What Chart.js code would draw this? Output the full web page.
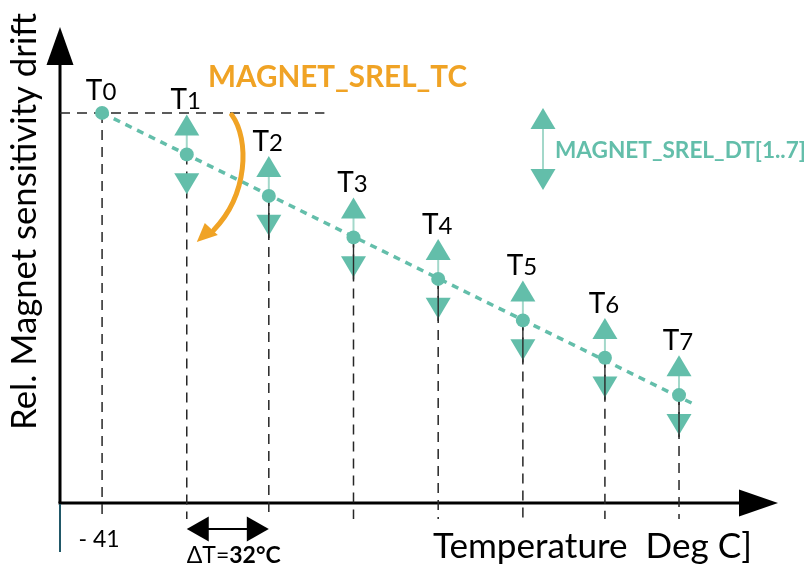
<!DOCTYPE html>
<html>
<head>
<meta charset="utf-8">
<script src="https://cdn.jsdelivr.net/npm/chart.js@4.4.1/dist/chart.umd.min.js"></script>
<style>
  html, body { margin: 0; padding: 0; background: #fff; }
  canvas { display: block; }
</style>
</head>
<body>
<canvas id="myChartDrift" width="809" height="564"></canvas>
<script>
// measuring points T0..T7
const pointNames = ["0", "1", "2", "3", "4", "5", "6", "7"]
const temperatures = [-41, -9, 22, 54, 86, 118, 149, 177]
const sensitivityDrift = [0, -1.0, -2.0, -3.0, -4.0, -5.0, -5.9, -6.8]
const driftTolerance = [0, 0.96, 0.96, 0.96, 0.96, 0.96, 0.96, 0.96]
// dotted TC line, runs a bit past T7
const trendTemperatures = [-41, 182]
const trendDrift = [0, -7.0]
const startTickLabel = "- 41"
const stepLabel = ["\u0394T=", "32\u00B0C"]

const teal = "#63BEAA"
const tealLight = "#A3D8CA"
const orange = "#F0A325"
const font = "Lato, 'Open Sans', sans-serif"

const ctxDrift = document.getElementById("myChartDrift")

function fitSize(ctx, text, weight, width) {
  ctx.font = weight + " 100px " + font
  return 100 * width / ctx.measureText(text).width
}

function dashLine(ctx, x1, y1, x2, y2) {
  ctx.beginPath()
  ctx.moveTo(x1, y1)
  ctx.lineTo(x2, y2)
  ctx.stroke()
}

function triangle(ctx, x, tip, dir) {
  // dir = -1 points up, 1 points down
  ctx.beginPath()
  ctx.moveTo(x, tip)
  ctx.lineTo(x - 12.5, tip - dir * 21)
  ctx.lineTo(x + 12.5, tip - dir * 21)
  ctx.closePath()
  ctx.fill()
}

const sketch = {
  id: "sketch",
  beforeDatasetsDraw(chart) {
    const { ctx, chartArea: a, scales: { x, y } } = chart
    ctx.save()

    // axes with arrow heads
    ctx.strokeStyle = "#000"
    ctx.fillStyle = "#000"
    ctx.lineWidth = 3
    dashLine(ctx, a.left, a.bottom, a.left, a.top + 36)
    dashLine(ctx, a.left - 1.5, a.bottom, a.right - 36, a.bottom)
    ctx.beginPath()
    ctx.moveTo(a.left, a.top)
    ctx.lineTo(a.left - 13.5, a.top + 38)
    ctx.lineTo(a.left + 13.5, a.top + 38)
    ctx.closePath()
    ctx.fill()
    ctx.beginPath()
    ctx.moveTo(a.right, a.bottom)
    ctx.lineTo(a.right - 39, a.bottom - 13.5)
    ctx.lineTo(a.right - 39, a.bottom + 13.5)
    ctx.closePath()
    ctx.fill()
    ctx.strokeStyle = "#215868"
    ctx.lineWidth = 2
    dashLine(ctx, a.left, a.bottom + 1, a.left, a.bottom + 49)

    // reference lines
    ctx.strokeStyle = "#262626"
    ctx.lineWidth = 1.5
    ctx.setLineDash([10, 7])
    const y0 = y.getPixelForValue(sensitivityDrift[0])
    dashLine(ctx, a.left, y0, x.getPixelForValue(43), y0)
    for (let i = 0; i < temperatures.length; i++) {
      const px = x.getPixelForValue(temperatures[i])
      const py = y.getPixelForValue(sensitivityDrift[i])
      dashLine(ctx, px, py, px, a.bottom + 16)
    }
    ctx.setLineDash([])

    // tolerance connectors
    ctx.strokeStyle = tealLight
    ctx.lineWidth = 2
    for (let i = 1; i < temperatures.length; i++) {
      const px = x.getPixelForValue(temperatures[i])
      const top = y.getPixelForValue(sensitivityDrift[i] + driftTolerance[i])
      const py = y.getPixelForValue(sensitivityDrift[i])
      dashLine(ctx, px, top + 10, px, py)
    }
    ctx.restore()
  },
  afterDatasetsDraw(chart) {
    const { ctx, chartArea: a, scales: { x, y } } = chart
    ctx.save()

    // MAGNET_SREL_DT triangles
    ctx.fillStyle = teal
    for (let i = 1; i < temperatures.length; i++) {
      const px = x.getPixelForValue(temperatures[i])
      triangle(ctx, px, y.getPixelForValue(sensitivityDrift[i] + driftTolerance[i]), -1)
      triangle(ctx, px, y.getPixelForValue(sensitivityDrift[i] - driftTolerance[i]), 1)
    }
    ctx.strokeStyle = "#2a2a2a"
    ctx.lineWidth = 1.4
    for (let i = 2; i < temperatures.length; i++) {
      const px = x.getPixelForValue(temperatures[i])
      const py = y.getPixelForValue(sensitivityDrift[i])
      dashLine(ctx, px, py + 7, px, py + 42)
    }

    // T labels
    ctx.fillStyle = "#000"
    ctx.textBaseline = "alphabetic"
    for (let i = 0; i < temperatures.length; i++) {
      const px = x.getPixelForValue(temperatures[i])
      const py = y.getPixelForValue(sensitivityDrift[i])
      const base = i === 0 ? py - 13 : py - 45
      ctx.font = "28px " + font
      const wT = ctx.measureText("T").width
      ctx.font = "24px " + font
      const wD = ctx.measureText(pointNames[i]).width
      const left = px - 1 - (wT + wD) / 2
      ctx.textAlign = "left"
      ctx.font = "28px " + font
      ctx.fillText("T", left, base)
      ctx.font = "24px " + font
      ctx.fillText(pointNames[i], left + wT, base)
    }

    // axis titles
    let s = fitSize(ctx, "Rel. Magnet sensitivity drift", "normal", 417)
    ctx.font = s + "px " + font
    ctx.save()
    ctx.translate(36, 221.5)
    ctx.rotate(-Math.PI / 2)
    ctx.textAlign = "center"
    ctx.fillText("Rel. Magnet sensitivity drift", 0, 0)
    ctx.restore()

    s = fitSize(ctx, "Temperature  Deg C]", "normal", 319)
    ctx.font = s + "px " + font
    ctx.textAlign = "left"
    ctx.fillText("Temperature  Deg C]", 433, 558)

    // start tick and step
    ctx.font = "23px " + font
    ctx.textAlign = "center"
    ctx.fillText(startTickLabel, x.getPixelForValue(temperatures[0]) - 3, 547)

    const x1 = x.getPixelForValue(temperatures[1])
    const x2 = x.getPixelForValue(temperatures[2])
    ctx.lineWidth = 2
    ctx.strokeStyle = "#000"
    dashLine(ctx, x1 + 15, 529, x2 - 15, 529)
    ctx.beginPath()
    ctx.moveTo(x1, 529); ctx.lineTo(x1 + 22, 516.5); ctx.lineTo(x1 + 22, 541.5)
    ctx.closePath(); ctx.fill()
    ctx.beginPath()
    ctx.moveTo(x2, 529); ctx.lineTo(x2 - 22, 516.5); ctx.lineTo(x2 - 22, 541.5)
    ctx.closePath(); ctx.fill()
    ctx.textAlign = "left"
    ctx.font = "23px " + font
    const wa = ctx.measureText(stepLabel[0]).width
    ctx.fillText(stepLabel[0], x1, 563)
    ctx.font = "bold 23px " + font
    ctx.fillText(stepLabel[1], x1 + wa, 563)

    // MAGNET_SREL_TC curved arrow
    const ax = (x1 + x2) / 2
    const ay = y.getPixelForValue(sensitivityDrift[0])
    ctx.strokeStyle = orange
    ctx.fillStyle = orange
    ctx.lineWidth = 5
    ctx.lineCap = "round"
    ctx.beginPath()
    ctx.moveTo(ax + 4, ay + 2)
    ctx.bezierCurveTo(ax + 22, ay + 27, ax + 20, ay + 82, ax - 14, ay + 117)
    ctx.stroke()
    ctx.beginPath()
    ctx.moveTo(ax - 31, ay + 129)
    ctx.lineTo(ax - 23, ay + 110)
    ctx.lineTo(ax - 10, ay + 122)
    ctx.closePath()
    ctx.fill()
    s = fitSize(ctx, "MAGNET_SREL_TC", "bold", 259)
    ctx.font = "bold " + s + "px " + font
    ctx.fillText("MAGNET_SREL_TC", 208, 87)

    // legend for the tolerance arrows
    ctx.strokeStyle = tealLight
    ctx.lineWidth = 2
    dashLine(ctx, 543, 125, 543, 172)
    ctx.fillStyle = teal
    triangle(ctx, 543, 108, -1)
    triangle(ctx, 543, 190, 1)
    s = fitSize(ctx, "MAGNET_SREL_DT[1..7]", "bold", 251)
    ctx.font = "bold " + s + "px " + font
    ctx.fillText("MAGNET_SREL_DT[1..7]", 555, 158)

    ctx.restore()
  }
}

new Chart(ctxDrift, {
  type: "scatter",
  data: {
    datasets: [{
      label: "Points",
      data: temperatures.map((t, i) => ({ x: t, y: sensitivityDrift[i] })),
      backgroundColor: teal,
      borderWidth: 0,
      pointRadius: 7,
      pointHoverRadius: 7
    }, {
      type: "line",
      label: "Trend",
      data: trendTemperatures.map((t, i) => ({ x: t, y: trendDrift[i] })),
      borderColor: teal,
      borderWidth: 3.5,
      borderDash: [7, 6],
      pointRadius: 0,
      fill: false
    }]
  },
  options: {
    responsive: false,
    animation: false,
    events: [],
    layout: {
      padding: { left: 60, top: 27, right: 31, bottom: 61 }
    },
    plugins: {
      legend: { display: false },
      tooltip: { enabled: false }
    },
    scales: {
      x: { type: "linear", display: false, min: -56.9, max: 214.4 },
      y: { display: false, min: -9.4, max: 2.07 }
    }
  },
  plugins: [sketch]
})
</script>
</body>
</html>
